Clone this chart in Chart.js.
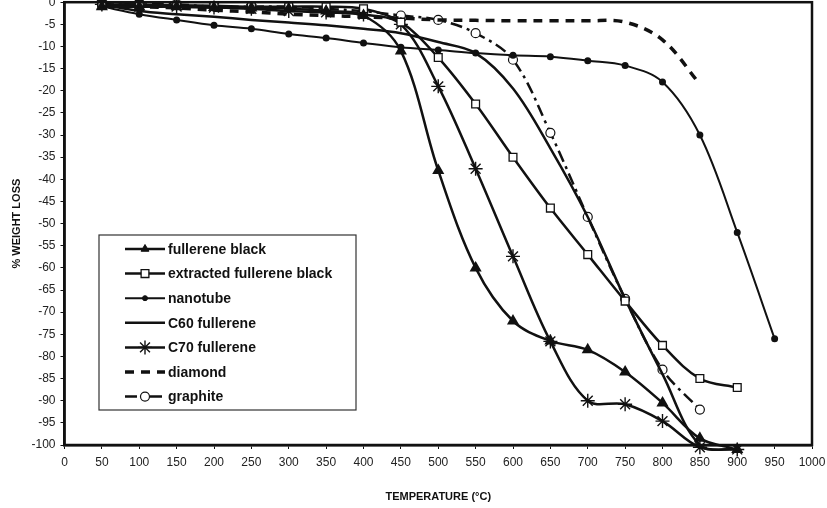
<!DOCTYPE html>
<html>
<head>
<meta charset="utf-8">
<script src="https://cdn.jsdelivr.net/npm/chart.js@4.4.1/dist/chart.umd.min.js"></script>
<style>
  body { margin: 0; background: #fff; overflow: hidden; }
  canvas { display: block; margin-top: -10px; }
</style>
</head>
<body>
<canvas id="myChart" width="827" height="518"></canvas>
<script>
// temperatures (°C)
const temps = [50, 100, 150, 200, 250, 300, 350, 400, 450, 500, 550, 600, 650, 700, 750, 800, 850, 900, 950];

// % weight loss
const fullereneBlack = [-1, -1, -1, -1.2, -1.3, -1.5, -2, -3, -11, -38, -60, -72, -76.5, -78.5, -83.5, -90.5, -98.5, -101, null];
const extracted = [-0.5, -0.5, -0.7, -0.8, -1, -1, -1, -1.5, -4.5, -12.5, -23, -35, -46.5, -57, -67.5, -77.5, -85, -87, null];
const nanotube = [-1, -2.7, -4, -5.2, -6, -7.2, -8.1, -9.2, -10.2, -10.8, -11.5, -12, -12.3, -13.2, -14.3, -18, -30, -52, -76];
const c60 = [-0.5, -2, -2.7, -3.3, -4, -4.6, -5.2, -6, -7, -9, -11.5, -19.5, -33, -48.5, -67, -84, -100, -101, null];
const c70 = [-0.5, -1, -1, -1.2, -1.5, -2, -2.3, -2.8, -5, -19, -37.6, -57.4, -76.6, -90, -90.8, -94.6, -100.5, -101, null];
const diamond = [-0.5, -1, -1.3, -1.8, -2.2, -2.7, -3, -3.3, -3.6, -4, -4.1, -4.2, -4.2, -4.2, -4.5, -8.5, -18.5, null, null];
const graphite = [-0.5, -0.5, -0.5, -1, -1, -1, -1.5, -2, -3, -4, -7, -13, -29.5, -48.5, -67, -83, -92, null, null];

const xTicks = [0, 50, 100, 150, 200, 250, 300, 350, 400, 450, 500, 550, 600, 650, 700, 750, 800, 850, 900, 950, 1000];

function pts(arr) {
    return temps.map((t, i) => ({ x: t, y: arr[i] }));
}

const black = '#111';
const base = { borderColor: black, backgroundColor: black, borderWidth: 2.5, tension: 0.35, clip: false, spanGaps: false };

const data = {
    datasets: [
        { ...base, label: 'fullerene black', data: pts(fullereneBlack), pointStyle: 'triangle', pointRadius: 4.5, pointBackgroundColor: black },
        { ...base, label: 'extracted fullerene black', data: pts(extracted), pointStyle: 'rect', pointRadius: 5.5, pointBackgroundColor: '#fff', pointBorderWidth: 1.3 },
        { ...base, label: 'nanotube', data: pts(nanotube), borderWidth: 2, pointStyle: 'circle', pointRadius: 2.5, pointBackgroundColor: black },
        { ...base, label: 'C60 fullerene', data: pts(c60), pointRadius: 0 },
        { ...base, label: 'C70 fullerene', data: pts(c70), pointStyle: 'star', pointRadius: 7, pointBorderWidth: 1.4 },
        { ...base, label: 'diamond', data: pts(diamond), borderWidth: 3.5, borderDash: [9, 7], pointRadius: 0 },
        { ...base, label: 'graphite', data: pts(graphite), borderDash: [12, 5, 3, 5], pointStyle: 'circle', pointRadius: 4.5, pointBackgroundColor: '#fff', pointBorderWidth: 1.2 }
    ]
};

// frame round the plot + legend box inside it
const frameAndLegend = {
    id: 'frameAndLegend',
    afterDraw(chart) {
        const ctx = chart.ctx;
        const a = chart.chartArea;
        ctx.save();
        ctx.strokeStyle = black;
        ctx.lineWidth = 2.5;
        ctx.strokeRect(a.left, a.top, a.right - a.left, a.bottom - a.top);

        // legend (page coords + 10 because the canvas is shifted up)
        const bx = 99, by = 245, bw = 257, bh = 175;
        ctx.lineWidth = 1.2;
        ctx.strokeStyle = '#333';
        ctx.fillStyle = '#fff';
        ctx.fillRect(bx, by, bw, bh);
        ctx.strokeRect(bx, by, bw, bh);
        ctx.font = 'bold 14px "Liberation Sans", Arial, sans-serif';
        ctx.textBaseline = 'middle';
        chart.data.datasets.forEach((ds, i) => {
            const y = 259 + i * 24.6;
            ctx.save();
            ctx.strokeStyle = black;
            ctx.lineWidth = ds.borderWidth;
            ctx.setLineDash(ds.borderDash || []);
            ctx.beginPath();
            ctx.moveTo(125, y);
            ctx.lineTo(165, y);
            ctx.stroke();
            ctx.restore();
            if (ds.pointRadius > 0) {
                ctx.save();
                ctx.fillStyle = ds.pointBackgroundColor || black;
                ctx.strokeStyle = black;
                ctx.lineWidth = ds.pointBorderWidth || 1;
                Chart.helpers.drawPoint(ctx, { pointStyle: ds.pointStyle, radius: ds.pointRadius, borderWidth: ds.pointBorderWidth || 1 }, 145, y);
                ctx.restore();
            }
            ctx.fillStyle = black;
            ctx.fillText(ds.label, 168, y + 1);
        });
        ctx.restore();
    }
};

const fontFam = '"Liberation Sans", Arial, sans-serif';

const config = {
    type: 'line',
    data: data,
    options: {
        responsive: false,
        animation: false,
        layout: { padding: { top: 1, right: 1, left: 0, bottom: 0 } },
        plugins: { legend: { display: false }, tooltip: { enabled: false } },
        scales: {
            x: {
                type: 'linear',
                min: 0,
                max: 1000,
                afterBuildTicks: axis => { axis.ticks = xTicks.map(v => ({ value: v })); },
                afterFit: axis => { axis.height = 63; axis.paddingRight = 15; },
                grid: { display: true, drawOnChartArea: false, tickLength: 4, color: black, lineWidth: 1 },
                border: { display: true, color: black, width: 2.5 },
                ticks: { color: '#222', font: { family: fontFam, size: 12 }, padding: 6, maxRotation: 0, autoSkip: false, callback: v => String(v) },
                title: { display: true, text: 'TEMPERATURE (°C)', color: black, font: { family: fontFam, size: 11, weight: 'bold' }, padding: { top: 12 } }
            },
            y: {
                min: -100,
                max: 0,
                ticks: { stepSize: 5, color: '#222', font: { family: fontFam, size: 12 }, padding: 5 },
                afterFit: axis => { axis.width = 64.5; },
                grid: { display: true, drawOnChartArea: false, tickLength: 4, color: black, lineWidth: 1 },
                border: { display: true, color: black, width: 2.5 },
                title: { display: true, text: '% WEIGHT LOSS', color: black, font: { family: fontFam, size: 11, weight: 'bold' }, padding: { top: 10, bottom: 0 } }
            }
        }
    },
    plugins: [frameAndLegend]
};

const myChart = new Chart(document.getElementById('myChart'), config);
</script>
</body>
</html>
